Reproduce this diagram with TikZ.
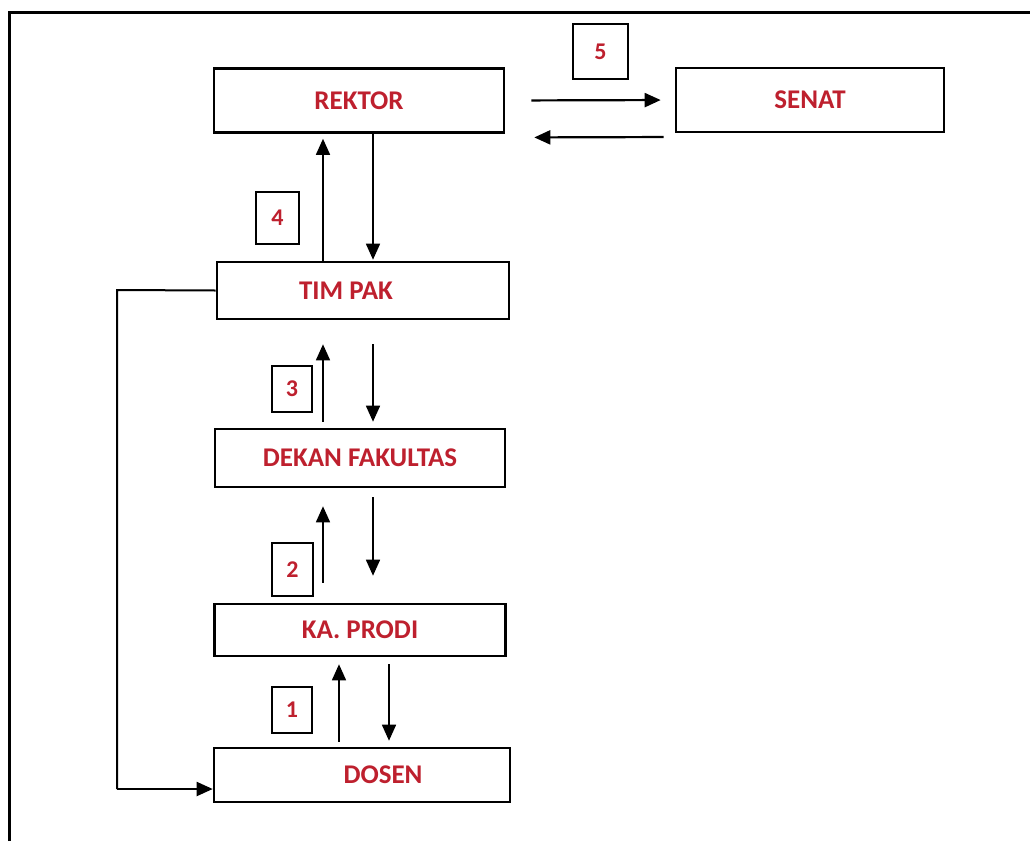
\documentclass[tikz,border=0pt]{standalone}
\usepackage{fontspec}
\setmainfont{Carlito}
\usetikzlibrary{arrows.meta}
\definecolor{lblred}{RGB}{190,32,46}
\tikzset{
  box/.style={draw=black, line width=2.6pt, fill=white, inner sep=0pt, text=lblred,
              font=\bfseries\fontsize{27}{32}\selectfont},
  numbox/.style={draw=black, line width=2.2pt, inner sep=0pt, text=lblred,
              font=\bfseries\fontsize{24}{28}\selectfont},
  arr/.style={line width=1.6pt, -{Triangle[length=16pt,width=14pt]}},
  plain/.style={line width=2pt}
}
\begin{document}
\begin{tikzpicture}[x=1pt,y=-1pt]
\useasboundingbox (0,0) rectangle (1030,841);
\fill[white] (0,0) rectangle (1030,841);
% frame
\draw[line width=3pt] (9,841) -- (9,12) -- (1030,12);
% main boxes
\node[box, minimum width=290pt, minimum height=64pt] (rektor) at (359,100.5) {REKTOR};
\node[box, minimum width=268pt, minimum height=64pt] (senat) at (810,100) {SENAT};
\node[box, minimum width=292pt, minimum height=57pt] (timpak) at (363,290.5) {TIM PAK\hspace*{34pt}};
\node[box, minimum width=290pt, minimum height=58pt] (dekan) at (360,458) {DEKAN FAKULTAS};
\node[box, minimum width=291pt, minimum height=52pt] (kaprodi) at (360,630) {KA. PRODI};
\node[box, minimum width=296pt, minimum height=54pt] (dosen) at (362,775) {\hspace*{42pt}DOSEN};
% number boxes
\node[numbox, minimum width=55pt, minimum height=55pt] (n5) at (600.5,51.5) {5};
\node[numbox, minimum width=43pt, minimum height=52pt] (n4) at (277.5,218) {4};
\node[numbox, minimum width=40pt, minimum height=46pt] (n3) at (292,389) {3};
\node[numbox, minimum width=41pt, minimum height=53pt] (n2) at (292.5,569.5) {2};
\node[numbox, minimum width=40pt, minimum height=46pt] (n1) at (292,710) {1};
% REKTOR <-> SENAT
\draw[arr, line width=2.2pt, shorten <=26pt, shorten >=14pt] (rektor.east) -- (senat.west);
\draw[arr, line width=2.2pt, shorten <=11pt, shorten >=29pt] ([yshift=-37pt]senat.west) -- ([yshift=-37pt]rektor.east);
% REKTOR <-> TIM PAK
\draw[arr, shorten >=5pt] ([xshift=-40pt]timpak.north) -- ([xshift=-36pt]rektor.south);
\draw[arr, shorten <=0pt, shorten >=1pt] ([xshift=14pt]rektor.south) -- ([xshift=10pt]timpak.north);
% TIM PAK <-> DEKAN
\draw[arr, shorten <=6pt, shorten >=24pt] ([xshift=-37pt]dekan.north) -- ([xshift=-40pt]timpak.south);
\draw[arr, shorten <=24pt, shorten >=6pt] ([xshift=10pt]timpak.south) -- ([xshift=13pt]dekan.north);
% DEKAN <-> KA. PRODI
\draw[arr, shorten <=20pt, shorten >=18pt] ([xshift=-37pt]kaprodi.north) -- ([xshift=-37pt]dekan.south);
\draw[arr, shorten <=9pt, shorten >=27pt] ([xshift=13pt]dekan.south) -- ([xshift=13pt]kaprodi.north);
% KA. PRODI <-> DOSEN
\draw[arr, shorten <=5pt, shorten >=7pt] ([xshift=-23pt]dosen.north) -- ([xshift=-21pt]kaprodi.south);
\draw[arr, shorten <=7pt, shorten >=6pt] ([xshift=29pt]kaprodi.south) -- ([xshift=27pt]dosen.north);
% TIM PAK -> DOSEN feedback
\coordinate (c1) at (117,290);
\coordinate (c2) at (117,789);
\draw[plain] (timpak.west) -- (c1) -- (c2);
\draw[arr, line width=2pt] (c2) -- ([yshift=-14pt]dosen.west);
\end{tikzpicture}
\end{document}
